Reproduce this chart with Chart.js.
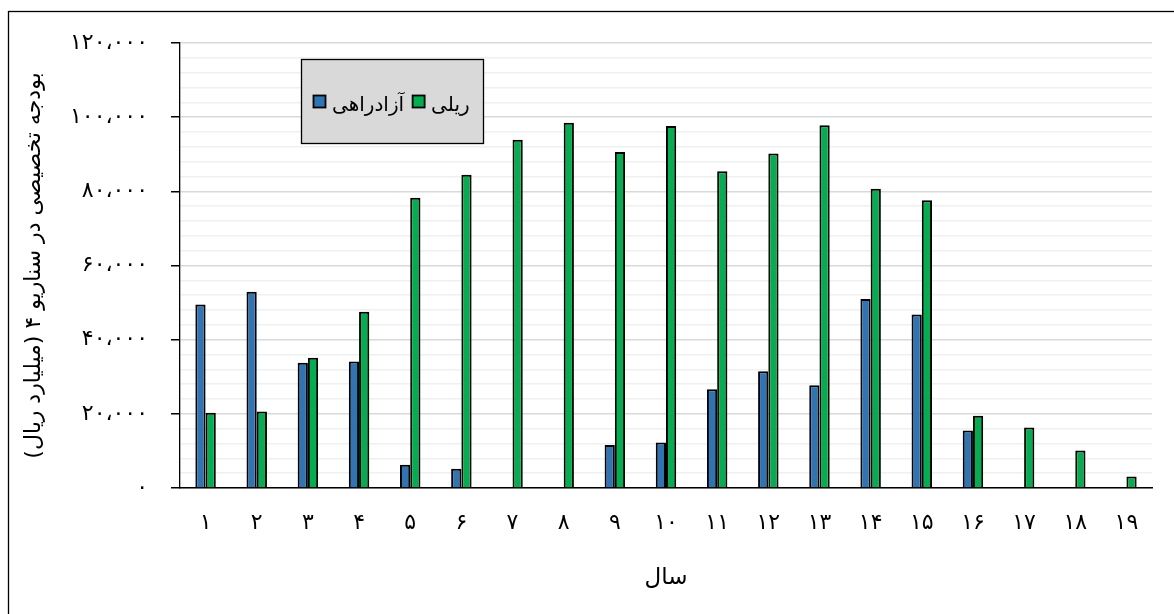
<!DOCTYPE html>
<html>
<head>
<meta charset="utf-8">
<script src="https://cdn.jsdelivr.net/npm/chart.js@4/dist/chart.umd.min.js"></script>
<style>
  html,body{margin:0;padding:0;background:#fff;}
  #wrap{width:1174px;height:614px;position:relative;}
</style>
</head>
<body>
<div id="wrap"><canvas id="c" width="1174" height="614"></canvas></div>
<script>
/* ---- data ---- */
const YEARS = ['۱','۲','۳','۴','۵','۶','۷','۸','۹','۱۰','۱۱','۱۲','۱۳','۱۴','۱۵','۱۶','۱۷','۱۸','۱۹'];
const FREEWAY = [49500,52900,33800,34100,6300,5200,null,null,11600,12300,26600,31500,27700,51000,46800,15500,null,null,null];
const RAIL    = [20300,20600,35100,47500,78300,84500,93900,98500,90600,97600,85400,90200,97800,80700,77600,19500,16300,10100,3100];
const Y_TICK_LABELS = ['۰','۲۰،۰۰۰','۴۰،۰۰۰','۶۰،۰۰۰','۸۰،۰۰۰','۱۰۰،۰۰۰','۱۲۰،۰۰۰'];
const SERIES_NAMES = ['آزادراهی','ریلی'];
const X_TITLE = 'سال';
const Y_TITLE = 'بودجه تخصیصی در سناریو ۴ (میلیارد ریال)';

const BLUE='#2E75B6', GREEN='#00B050', INK='#000';
const FONT='"DejaVu Sans", sans-serif';

// frame around the whole figure (open to the right / bottom like the source)
const framePlugin={id:'frame',beforeDraw(ch){
  const c=ch.ctx; c.save(); c.strokeStyle=INK; c.lineWidth=1.3;
  c.strokeRect(8.5,11.5,1300,700); c.restore();
}};

// legend box drawn on top of the plot
const legendPlugin={id:'boxLegend',afterDraw(ch){
  const c=ch.ctx; c.save();
  c.fillStyle='#D9D9D9'; c.fillRect(301,59,182,84);
  c.strokeStyle=INK; c.lineWidth=1.3; c.strokeRect(301.5,59.5,182,84);
  c.font='20px '+FONT; c.textBaseline='middle'; c.textAlign='left'; c.fillStyle=INK;
  let x=313;
  ch.data.datasets.forEach(ds=>{
    c.fillStyle=ds.backgroundColor; c.fillRect(x,95,13,13);
    c.lineWidth=1.8; c.strokeStyle=INK; c.strokeRect(x+0.5,95.5,12,12);
    c.fillStyle=INK; c.fillText(ds.label,x+19,106);
    x+=19+c.measureText(ds.label).width+8;
  });
  c.restore();
}};

new Chart(document.getElementById('c'),{
  type:'bar',
  data:{labels:YEARS,datasets:[
    {label:SERIES_NAMES[0],data:FREEWAY,backgroundColor:BLUE,borderColor:INK,borderWidth:2},
    {label:SERIES_NAMES[1],data:RAIL,backgroundColor:GREEN,borderColor:INK,borderWidth:2}
  ]},
  options:{
    responsive:false,animation:false,
    layout:{padding:{left:0,right:22,top:43,bottom:0}},
    categoryPercentage:0.4,barPercentage:1.0,
    plugins:{legend:{display:false},tooltip:{enabled:false}},
    scales:{
      x:{
        grid:{display:false,drawTicks:false},
        border:{display:true,color:INK,width:1.5},
        ticks:{color:INK,font:{family:FONT,size:22},padding:22,maxRotation:0},
        title:{display:true,text:X_TITLE,color:INK,font:{family:FONT,size:23},padding:{top:0,bottom:22}},
        afterFit:s=>{s.height=126;}
      },
      y:{
        min:0,max:120000,
        grid:{
          color:c=>c.tick&&c.tick.value%20000===0?'#D9D9D9':'#F0F0F0',
          lineWidth:1.5,tickLength:9,
          tickColor:c=>c.tick&&c.tick.value%20000===0?INK:'rgba(0,0,0,0)'
        },
        border:{display:true,color:INK,width:1.3},
        ticks:{stepSize:4000,autoSkip:false,color:INK,font:{family:FONT,size:22},padding:23,
          callback:v=>v%20000===0?Y_TICK_LABELS[v/20000]:''},
        title:{display:true,text:Y_TITLE,color:INK,font:{family:FONT,size:22},padding:{top:21,bottom:0}},
        afterFit:s=>{s.width=180;}
      }
    }
  },
  plugins:[framePlugin,legendPlugin]
});
</script>
</body>
</html>
